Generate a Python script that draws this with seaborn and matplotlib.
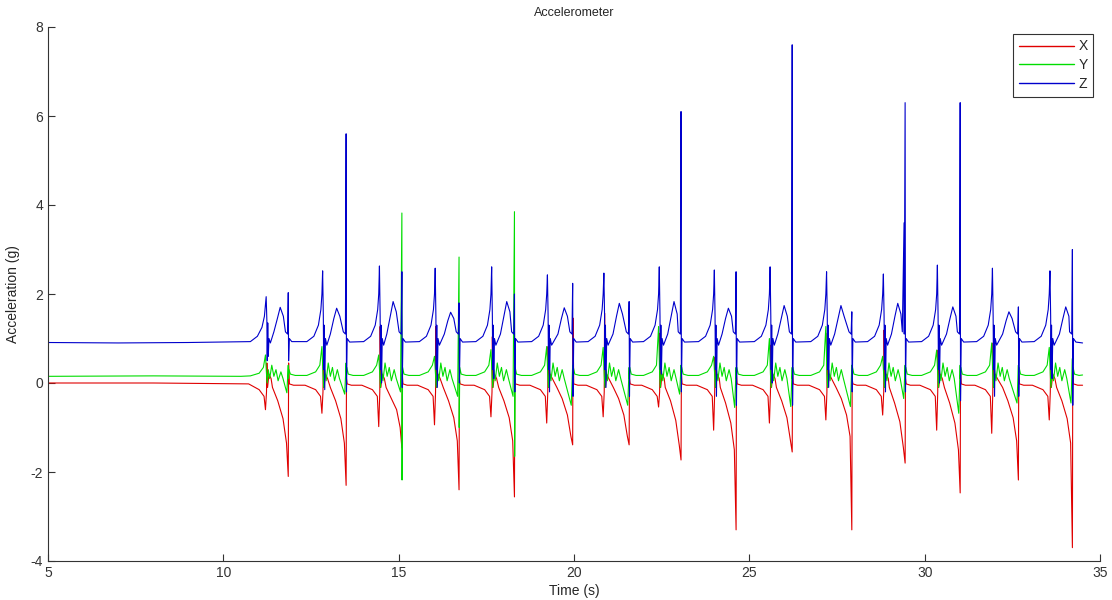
import numpy as np
import pandas as pd
import matplotlib
matplotlib.use("Agg")
import matplotlib.pyplot as plt
import seaborn as sns

# ---------------- data ----------------
series_names = ["X", "Y", "Z"]
series_colors = ["#e00000", "#00dd00", "#0000cc"]

# Z axis
z_time = [
    5.00, 7.00, 9.00,
    10.77, 10.97, 11.10, 11.17, 11.20, 11.22, 11.24, 11.25, 11.265, 11.28, 11.30, 11.34, 11.44, 11.54, 11.62, 11.71, 11.77, 11.83, 11.85, 11.86, 11.88, 11.95,
    12.38, 12.58, 12.71, 12.78, 12.81, 12.83, 12.85, 12.86, 12.875, 12.89, 12.91, 12.95, 13.05, 13.15, 13.23, 13.32, 13.42, 13.48, 13.50, 13.51, 13.53, 13.60,
    14.00, 14.20, 14.33, 14.40, 14.43, 14.45, 14.47, 14.48, 14.495, 14.51, 14.53, 14.57, 14.66, 14.76, 14.84, 14.93, 15.01, 15.07, 15.09, 15.10, 15.12, 15.19,
    15.59, 15.79, 15.92, 15.99, 16.02, 16.04, 16.06, 16.07, 16.085, 16.10, 16.12, 16.16, 16.30, 16.40, 16.48, 16.57, 16.64, 16.70, 16.72, 16.73, 16.75, 16.82,
    17.20, 17.40, 17.53, 17.60, 17.63, 17.65, 17.67, 17.68, 17.695, 17.71, 17.73, 17.77, 17.90, 18.00, 18.08, 18.17, 18.22, 18.28, 18.30, 18.31, 18.33, 18.40,
    18.79, 18.99, 19.12, 19.19, 19.22, 19.24, 19.26, 19.27, 19.285, 19.30, 19.32, 19.36, 19.54, 19.64, 19.72, 19.81, 19.88, 19.94, 19.96, 19.97, 19.99, 20.06,
    20.40, 20.60, 20.73, 20.80, 20.83, 20.85, 20.87, 20.88, 20.895, 20.91, 20.93, 20.97, 21.11, 21.21, 21.29, 21.38, 21.49, 21.55, 21.57, 21.58, 21.60, 21.67,
    21.98, 22.18, 22.31, 22.38, 22.41, 22.43, 22.45, 22.46, 22.475, 22.49, 22.51, 22.55, 22.67, 22.77, 22.85, 22.94, 22.97, 23.03, 23.05, 23.06, 23.08, 23.15,
    23.55, 23.75, 23.88, 23.95, 23.98, 24.00, 24.02, 24.03, 24.045, 24.06, 24.08, 24.12, 24.22, 24.32, 24.40, 24.49, 24.54, 24.60, 24.62, 24.63, 24.65, 24.72,
    25.14, 25.34, 25.47, 25.54, 25.57, 25.59, 25.61, 25.62, 25.635, 25.65, 25.67, 25.71, 25.81, 25.91, 25.99, 26.08, 26.14, 26.20, 26.22, 26.23, 26.25, 26.32,
    26.75, 26.95, 27.08, 27.15, 27.18, 27.20, 27.22, 27.23, 27.245, 27.26, 27.28, 27.32, 27.43, 27.53, 27.61, 27.70, 27.84, 27.90, 27.92, 27.93, 27.95, 28.02,
    28.37, 28.57, 28.70, 28.77, 28.80, 28.82, 28.84, 28.85, 28.865, 28.88, 28.90, 28.94, 29.05, 29.15, 29.23, 29.32, 29.36, 29.41, 29.415, 29.44, 29.45, 29.47, 29.54,
    29.91, 30.11, 30.24, 30.31, 30.34, 30.36, 30.38, 30.39, 30.405, 30.42, 30.44, 30.48, 30.62, 30.72, 30.80, 30.89, 30.93, 30.99, 31.01, 31.02, 31.04, 31.11,
    31.48, 31.68, 31.81, 31.88, 31.91, 31.93, 31.95, 31.96, 31.975, 31.99, 32.01, 32.05, 32.22, 32.32, 32.40, 32.49, 32.59, 32.65, 32.67, 32.68, 32.70, 32.77,
    33.12, 33.32, 33.45, 33.52, 33.55, 33.57, 33.59, 33.60, 33.615, 33.63, 33.65, 33.69, 33.84, 33.94, 34.02, 34.11, 34.13, 34.19, 34.21, 34.22, 34.24, 34.31,
    34.50,
]
z_value = [
    0.91, 0.90, 0.91,
    0.93, 1.05, 1.25, 1.50, 1.75, 1.94, 1.40, 0.50, 1.35, 0.60, 1.00, 0.90, 1.15, 1.45, 1.70, 1.50, 1.15, 1.10, 2.03, 0.50, 1.00, 0.93,
    0.93, 1.05, 1.30, 1.65, 2.00, 2.52, 1.50, 0.30, 1.30, -0.15, 1.00, 0.85, 1.10, 1.45, 1.68, 1.50, 1.15, 1.10, 5.60, -0.20, 1.00, 0.92,
    0.93, 1.05, 1.30, 1.65, 2.00, 2.63, 1.50, 0.30, 1.30, 0.00, 1.00, 0.85, 1.10, 1.50, 1.83, 1.60, 1.15, 1.10, 2.50, -0.10, 1.00, 0.92,
    0.93, 1.05, 1.30, 1.65, 2.00, 2.58, 1.50, 0.30, 1.30, -0.10, 1.00, 0.85, 1.10, 1.40, 1.59, 1.45, 1.15, 1.10, 1.80, 0.00, 1.00, 0.92,
    0.93, 1.05, 1.30, 1.65, 2.00, 2.61, 1.50, 0.30, 1.30, 0.10, 1.00, 0.85, 1.10, 1.50, 1.83, 1.60, 1.15, 1.10, 2.00, -0.20, 1.00, 0.92,
    0.93, 1.05, 1.30, 1.65, 2.00, 2.43, 1.50, 0.30, 1.30, -0.20, 1.00, 0.85, 1.10, 1.45, 1.69, 1.50, 1.15, 1.10, 2.24, -0.30, 1.00, 0.92,
    0.93, 1.05, 1.30, 1.65, 2.00, 2.47, 1.50, 0.30, 1.30, -0.10, 1.00, 0.85, 1.10, 1.50, 1.79, 1.55, 1.15, 1.10, 1.83, -0.30, 1.00, 0.92,
    0.93, 1.05, 1.30, 1.65, 2.00, 2.61, 1.50, 0.30, 1.30, 0.20, 1.00, 0.85, 1.10, 1.50, 1.83, 1.55, 1.15, 1.10, 6.10, -0.20, 1.00, 0.92,
    0.93, 1.05, 1.30, 1.65, 2.00, 2.54, 1.50, 0.30, 1.30, -0.30, 1.00, 0.85, 1.10, 1.45, 1.68, 1.50, 1.15, 1.10, 2.50, -0.50, 1.00, 0.92,
    0.93, 1.05, 1.30, 1.65, 2.00, 2.61, 1.50, 0.30, 1.30, 0.00, 1.00, 0.85, 1.10, 1.45, 1.74, 1.50, 1.15, 1.10, 7.60, -0.50, 1.00, 0.92,
    0.93, 1.05, 1.30, 1.65, 2.00, 2.50, 1.50, 0.30, 1.30, -0.10, 1.00, 0.85, 1.10, 1.45, 1.74, 1.50, 1.15, 1.10, 1.60, -0.20, 1.00, 0.92,
    0.93, 1.05, 1.30, 1.65, 2.00, 2.45, 1.50, 0.30, 1.30, -0.20, 1.00, 0.85, 1.10, 1.50, 1.79, 1.55, 1.15, 3.60, 1.10, 6.30, -0.20, 1.00, 0.92,
    0.93, 1.05, 1.30, 1.65, 2.00, 2.65, 1.50, 0.30, 1.30, 0.00, 1.00, 0.85, 1.10, 1.45, 1.71, 1.50, 1.15, 1.10, 6.30, -0.40, 1.00, 0.92,
    0.93, 1.05, 1.30, 1.65, 2.00, 2.58, 1.50, 0.30, 1.30, -0.30, 1.00, 0.85, 1.10, 1.40, 1.60, 1.45, 1.15, 1.10, 1.71, -0.30, 1.00, 0.92,
    0.93, 1.05, 1.30, 1.65, 2.00, 2.52, 1.50, 0.30, 1.30, 0.10, 1.00, 0.85, 1.10, 1.45, 1.71, 1.50, 1.15, 1.10, 3.00, -0.50, 1.00, 0.92,
    0.90,
]

# Y axis
y_time = [
    5.00, 8.00, 10.50,
    10.77, 11.02, 11.14, 11.20, 11.23, 11.25, 11.28, 11.32, 11.38, 11.44, 11.50, 11.56, 11.64, 11.70, 11.81, 11.85, 11.855, 11.87, 11.91, 12.05,
    12.38, 12.63, 12.75, 12.81, 12.84, 12.86, 12.89, 12.93, 12.99, 13.05, 13.11, 13.17, 13.25, 13.31, 13.46, 13.50, 13.505, 13.52, 13.56, 13.70,
    14.00, 14.25, 14.37, 14.43, 14.46, 14.48, 14.51, 14.55, 14.61, 14.67, 14.73, 14.79, 14.87, 14.93, 15.05, 15.09, 15.095, 15.11, 15.15, 15.29,
    15.59, 15.84, 15.96, 16.02, 16.05, 16.07, 16.10, 16.14, 16.20, 16.26, 16.32, 16.38, 16.46, 16.52, 16.68, 16.72, 16.725, 16.74, 16.78, 16.92,
    17.20, 17.45, 17.57, 17.63, 17.66, 17.68, 17.71, 17.75, 17.81, 17.87, 17.93, 17.99, 18.07, 18.13, 18.26, 18.30, 18.305, 18.32, 18.36, 18.50,
    18.79, 19.04, 19.16, 19.22, 19.25, 19.27, 19.30, 19.34, 19.40, 19.46, 19.52, 19.58, 19.66, 19.72, 19.92, 19.96, 19.965, 19.98, 20.02, 20.16,
    20.40, 20.65, 20.77, 20.83, 20.86, 20.88, 20.91, 20.95, 21.01, 21.07, 21.13, 21.19, 21.27, 21.33, 21.53, 21.57, 21.575, 21.59, 21.63, 21.77,
    21.98, 22.23, 22.35, 22.41, 22.44, 22.46, 22.49, 22.53, 22.59, 22.65, 22.71, 22.77, 22.85, 22.91, 23.01, 23.05, 23.055, 23.07, 23.11, 23.25,
    23.55, 23.80, 23.92, 23.98, 24.01, 24.03, 24.06, 24.10, 24.16, 24.22, 24.28, 24.34, 24.42, 24.48, 24.58, 24.62, 24.625, 24.64, 24.68, 24.82,
    25.14, 25.39, 25.51, 25.57, 25.60, 25.62, 25.65, 25.69, 25.75, 25.81, 25.87, 25.93, 26.01, 26.07, 26.18, 26.22, 26.225, 26.24, 26.28, 26.42,
    26.75, 27.00, 27.12, 27.18, 27.21, 27.23, 27.26, 27.30, 27.36, 27.42, 27.48, 27.54, 27.62, 27.68, 27.88, 27.92, 27.925, 27.94, 27.98, 28.12,
    28.37, 28.62, 28.74, 28.80, 28.83, 28.85, 28.88, 28.92, 28.98, 29.04, 29.10, 29.16, 29.24, 29.30, 29.40, 29.44, 29.445, 29.46, 29.50, 29.64,
    29.91, 30.16, 30.28, 30.34, 30.37, 30.39, 30.42, 30.46, 30.52, 30.58, 30.64, 30.70, 30.78, 30.84, 30.97, 31.01, 31.015, 31.03, 31.07, 31.21,
    31.48, 31.73, 31.85, 31.91, 31.94, 31.96, 31.99, 32.03, 32.09, 32.15, 32.21, 32.27, 32.35, 32.41, 32.63, 32.67, 32.675, 32.69, 32.73, 32.87,
    33.12, 33.37, 33.49, 33.55, 33.58, 33.60, 33.63, 33.67, 33.73, 33.79, 33.85, 33.91, 33.99, 34.05, 34.17, 34.21, 34.215, 34.23, 34.27, 34.40,
    34.50,
]
y_value = [
    0.15, 0.16, 0.15,
    0.16, 0.22, 0.35, 0.63, 0.20, 0.00, 0.30, 0.10, 0.40, 0.15, 0.30, 0.05, 0.25, 0.10, -0.22, 0.40, 0.10, 0.30, 0.20, 0.17,
    0.17, 0.25, 0.40, 0.82, 0.20, -0.10, 0.30, 0.05, 0.45, 0.15, 0.35, 0.05, 0.30, 0.10, -0.25, 0.45, 0.10, 0.35, 0.20, 0.17,
    0.17, 0.25, 0.40, 0.63, 0.20, -0.10, 0.30, 0.05, 0.45, 0.15, 0.35, 0.05, 0.30, 0.10, -0.20, 3.82, -2.18, 0.35, 0.20, 0.17,
    0.17, 0.25, 0.40, 0.60, 0.20, -0.10, 0.30, 0.05, 0.45, 0.15, 0.35, 0.05, 0.30, 0.10, -0.30, 2.83, -1.00, 0.35, 0.20, 0.17,
    0.17, 0.25, 0.40, 0.75, 0.20, -0.10, 0.30, 0.05, 0.45, 0.15, 0.35, 0.05, 0.30, 0.10, -0.30, 3.85, -1.65, 0.35, 0.20, 0.17,
    0.17, 0.25, 0.40, 0.82, 0.20, -0.10, 0.30, 0.05, 0.45, 0.15, 0.35, 0.05, 0.30, 0.10, -0.50, 0.40, 0.10, 0.35, 0.20, 0.17,
    0.17, 0.25, 0.40, 0.80, 0.20, -0.10, 0.30, 0.05, 0.45, 0.15, 0.35, 0.05, 0.30, 0.10, -0.50, 0.35, 0.10, 0.35, 0.20, 0.17,
    0.17, 0.25, 0.40, 1.27, 0.20, -0.10, 0.30, 0.05, 0.45, 0.15, 0.35, 0.05, 0.30, 0.10, -0.25, 0.40, 0.10, 0.35, 0.20, 0.17,
    0.17, 0.25, 0.40, 0.60, 0.20, -0.10, 0.30, 0.05, 0.45, 0.15, 0.35, 0.05, 0.30, 0.10, -0.55, 0.35, 0.10, 0.35, 0.20, 0.17,
    0.17, 0.25, 0.40, 1.00, 0.20, -0.10, 0.30, 0.05, 0.45, 0.15, 0.35, 0.05, 0.30, 0.10, -0.53, 0.35, 0.10, 0.35, 0.20, 0.17,
    0.17, 0.25, 0.40, 1.27, 0.20, -0.10, 0.30, 0.05, 0.45, 0.15, 0.35, 0.05, 0.30, 0.10, -0.53, 0.40, 0.10, 0.35, 0.20, 0.17,
    0.17, 0.25, 0.40, 0.60, 0.20, -0.10, 0.30, 0.05, 0.45, 0.15, 0.35, 0.05, 0.30, 0.10, -0.35, 0.40, 0.10, 0.35, 0.20, 0.17,
    0.17, 0.25, 0.40, 0.74, 0.20, -0.10, 0.30, 0.05, 0.45, 0.15, 0.35, 0.05, 0.30, 0.10, -0.68, 0.40, 0.10, 0.35, 0.20, 0.17,
    0.17, 0.25, 0.40, 0.90, 0.20, -0.10, 0.30, 0.05, 0.45, 0.15, 0.35, 0.05, 0.30, 0.10, -0.45, 0.40, 0.10, 0.35, 0.20, 0.17,
    0.17, 0.25, 0.40, 0.80, 0.20, -0.10, 0.30, 0.05, 0.45, 0.15, 0.35, 0.05, 0.30, 0.10, -0.45, 0.55, 0.10, 0.35, 0.20, 0.17,
    0.18,
]

# X axis
x_time = [
    5.00, 8.00, 10.50,
    10.72, 11.02, 11.16, 11.20, 11.23, 11.24, 11.26, 11.30, 11.36, 11.40, 11.55, 11.70, 11.80, 11.85, 11.86, 11.88, 12.00,
    12.33, 12.63, 12.77, 12.81, 12.84, 12.85, 12.87, 12.91, 12.97, 13.05, 13.20, 13.35, 13.45, 13.50, 13.51, 13.53, 13.65,
    13.95, 14.25, 14.39, 14.43, 14.46, 14.47, 14.49, 14.53, 14.59, 14.64, 14.79, 14.94, 15.04, 15.09, 15.10, 15.12, 15.24,
    15.54, 15.84, 15.98, 16.02, 16.05, 16.06, 16.08, 16.12, 16.18, 16.27, 16.42, 16.57, 16.67, 16.72, 16.73, 16.75, 16.87,
    17.15, 17.45, 17.59, 17.63, 17.66, 17.67, 17.69, 17.73, 17.79, 17.85, 18.00, 18.15, 18.25, 18.30, 18.31, 18.33, 18.45,
    18.74, 19.04, 19.18, 19.22, 19.25, 19.26, 19.28, 19.32, 19.38, 19.51, 19.66, 19.81, 19.91, 19.96, 19.97, 19.99, 20.11,
    20.35, 20.65, 20.79, 20.83, 20.86, 20.87, 20.89, 20.93, 20.99, 21.12, 21.27, 21.42, 21.52, 21.57, 21.58, 21.60, 21.72,
    21.93, 22.23, 22.37, 22.41, 22.44, 22.45, 22.47, 22.51, 22.57, 22.60, 22.75, 22.90, 23.00, 23.05, 23.06, 23.08, 23.20,
    23.50, 23.80, 23.94, 23.98, 24.01, 24.02, 24.04, 24.08, 24.14, 24.17, 24.32, 24.47, 24.57, 24.62, 24.63, 24.65, 24.77,
    25.09, 25.39, 25.53, 25.57, 25.60, 25.61, 25.63, 25.67, 25.73, 25.77, 25.92, 26.07, 26.17, 26.22, 26.23, 26.25, 26.37,
    26.70, 27.00, 27.14, 27.18, 27.21, 27.22, 27.24, 27.28, 27.34, 27.47, 27.62, 27.77, 27.87, 27.92, 27.93, 27.95, 28.07,
    28.32, 28.62, 28.76, 28.80, 28.83, 28.84, 28.86, 28.90, 28.96, 28.99, 29.14, 29.29, 29.39, 29.44, 29.45, 29.47, 29.59,
    29.86, 30.16, 30.30, 30.34, 30.37, 30.38, 30.40, 30.44, 30.50, 30.56, 30.71, 30.86, 30.96, 31.01, 31.02, 31.04, 31.16,
    31.43, 31.73, 31.87, 31.91, 31.94, 31.95, 31.97, 32.01, 32.07, 32.22, 32.37, 32.52, 32.62, 32.67, 32.68, 32.70, 32.82,
    33.07, 33.37, 33.51, 33.55, 33.58, 33.59, 33.61, 33.65, 33.71, 33.76, 33.91, 34.06, 34.16, 34.21, 34.22, 34.24, 34.36,
    34.50,
]
x_value = [
    0.00, 0.00, -0.02,
    -0.02, -0.15, -0.30, -0.60, -0.20, 0.45, -0.10, 0.20, 0.10, -0.10, -0.40, -0.80, -1.35, -2.10, 0.45, -0.02, -0.05,
    -0.05, -0.15, -0.30, -0.68, -0.20, 0.45, -0.10, 0.20, 0.10, -0.10, -0.40, -0.80, -1.35, -2.30, 0.10, -0.02, -0.05,
    -0.05, -0.15, -0.30, -0.98, -0.20, 1.27, -0.10, 0.20, 0.10, -0.10, -0.35, -0.60, -1.00, -1.46, 0.20, -0.02, -0.05,
    -0.05, -0.15, -0.30, -0.94, -0.20, 1.27, -0.10, 0.20, 0.10, -0.10, -0.40, -0.78, -1.30, -2.40, 0.10, -0.02, -0.05,
    -0.05, -0.15, -0.30, -0.76, -0.20, 1.04, -0.10, 0.20, 0.10, -0.10, -0.40, -0.78, -1.30, -2.56, 0.10, -0.02, -0.05,
    -0.05, -0.15, -0.30, -0.90, -0.20, 0.82, -0.10, 0.20, 0.10, -0.10, -0.35, -0.72, -1.20, -1.39, 1.46, -0.02, -0.05,
    -0.05, -0.15, -0.30, -0.76, -0.20, 1.57, -0.10, 0.20, 0.10, -0.10, -0.35, -0.72, -1.20, -1.39, 0.10, -0.02, -0.05,
    -0.05, -0.15, -0.30, -0.54, -0.20, 1.12, -0.10, 0.20, 0.10, -0.10, -0.40, -0.84, -1.40, -1.73, 0.20, -0.02, -0.05,
    -0.05, -0.15, -0.30, -1.06, -0.20, 0.58, -0.10, 0.20, 0.10, -0.10, -0.45, -0.90, -1.50, -3.30, 0.20, -0.02, -0.05,
    -0.05, -0.15, -0.30, -0.90, -0.20, 0.85, -0.10, 0.20, 0.10, -0.10, -0.40, -0.78, -1.30, -1.55, 0.20, -0.02, -0.05,
    -0.05, -0.15, -0.30, -0.83, -0.20, 1.12, -0.10, 0.20, 0.10, -0.10, -0.35, -0.72, -1.20, -3.30, 0.10, -0.02, -0.05,
    -0.05, -0.15, -0.30, -0.72, -0.20, 1.19, -0.10, 0.20, 0.10, -0.10, -0.45, -0.87, -1.45, -1.80, 0.10, -0.02, -0.05,
    -0.05, -0.15, -0.30, -1.06, -0.20, 0.74, -0.10, 0.20, 0.10, -0.10, -0.45, -0.90, -1.50, -2.47, 0.30, -0.02, -0.05,
    -0.05, -0.15, -0.30, -1.13, -0.20, 0.90, -0.10, 0.20, 0.10, -0.10, -0.40, -0.78, -1.30, -2.18, 0.20, -0.02, -0.05,
    -0.05, -0.15, -0.30, -0.83, -0.20, 0.85, -0.10, 0.20, 0.10, -0.10, -0.40, -0.80, -1.35, -3.70, 0.30, -0.02, -0.05,
    -0.05,
]

x_ticks = [5, 10, 15, 20, 25, 30, 35]
y_ticks = [-4, -2, 0, 2, 4, 6, 8]

# ---------------- build long-form frame ----------------
frames = []
for name, t, v in zip(series_names, [x_time, y_time, z_time], [x_value, y_value, z_value]):
    frames.append(pd.DataFrame({"Time": t, "Acceleration": v, "Axis": name}))
df = pd.concat(frames, ignore_index=True)

# ---------------- plot ----------------
sns.set_style("ticks")
plt.rcParams["font.family"] = ["Liberation Sans", "DejaVu Sans"]
plt.rcParams["axes.unicode_minus"] = False

fig = plt.figure(figsize=(11.12, 6.0), dpi=100)
ax = fig.add_axes([0.0432, 0.065, 0.9461, 0.89])

sns.lineplot(data=df, x="Time", y="Acceleration", hue="Axis",
             hue_order=series_names, palette=series_colors,
             estimator=None, sort=False, linewidth=0.8, ax=ax)

ax.set_xlim(5, 35)
ax.set_ylim(-4, 8)
ax.set_xticks(x_ticks)
ax.set_yticks(y_ticks)
ax.tick_params(direction="in", length=5, width=0.8, labelsize=10, colors="#333333")
for side in ["top", "right"]:
    ax.spines[side].set_visible(False)
for side in ["left", "bottom"]:
    ax.spines[side].set_color("#333333")
    ax.spines[side].set_linewidth(0.8)

ax.set_title("Accelerometer", fontsize=9, pad=8)
ax.set_xlabel("Time (s)", fontsize=10, labelpad=3)
ax.set_ylabel("Acceleration (g)", fontsize=10, labelpad=8)

handles, labels = ax.get_legend_handles_labels()
leg = ax.legend(handles, labels, loc="upper right", frameon=True, fancybox=False,
                edgecolor="black", fontsize=10, handlelength=4.0, borderaxespad=0.5,
                labelspacing=0.35, borderpad=0.4, handletextpad=0.3)
leg.get_frame().set_linewidth(0.8)
for line in leg.get_lines():
    line.set_linewidth(1.0)

fig.savefig("out.png", dpi=100, facecolor="white")
